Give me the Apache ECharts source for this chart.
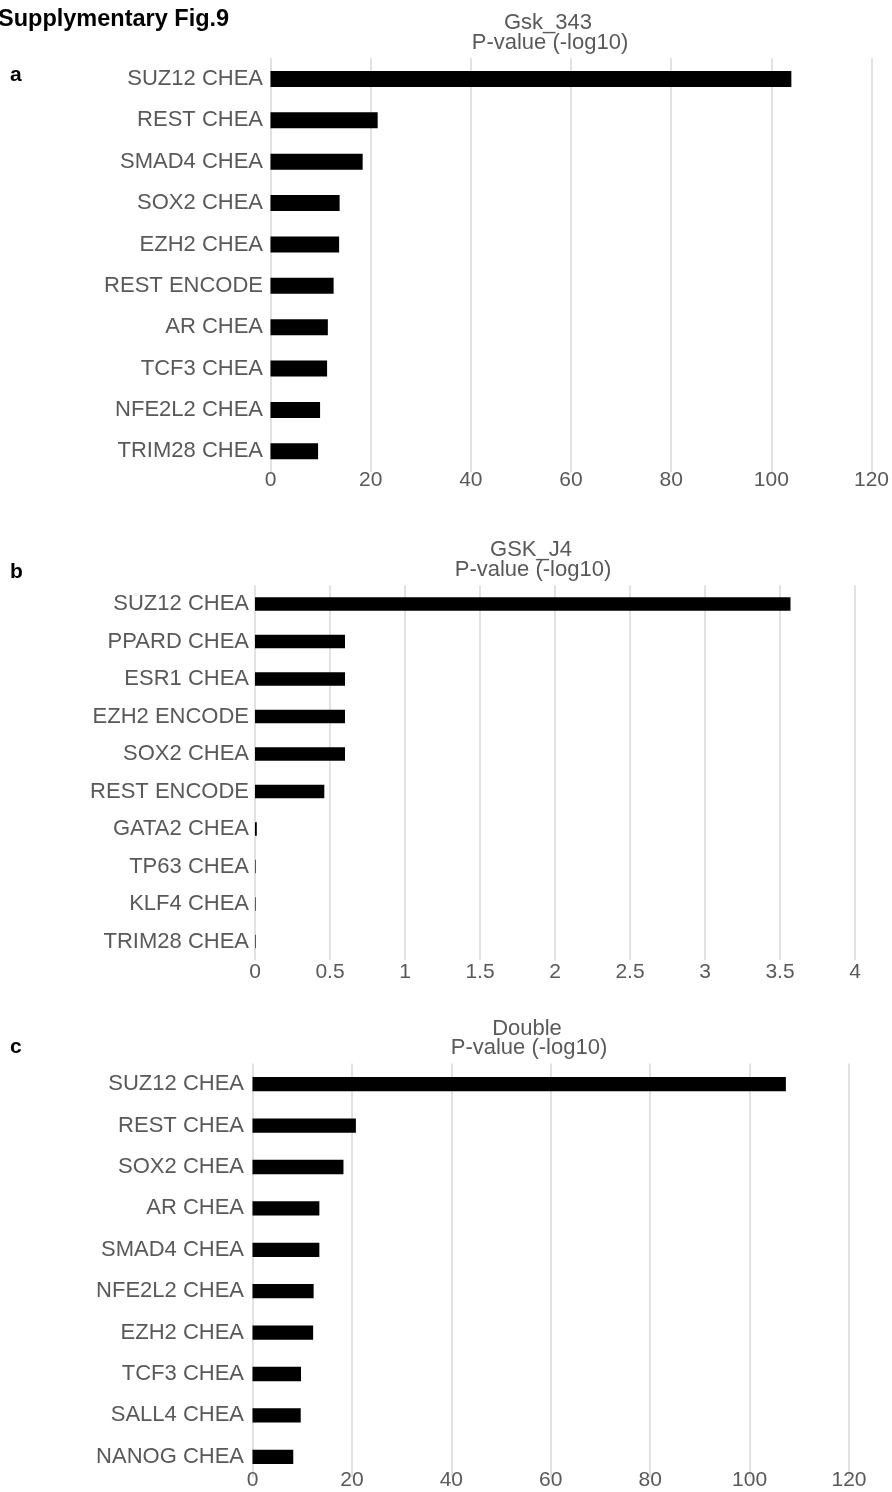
<!DOCTYPE html>
<html>
<head>
<meta charset="utf-8">
<script src="https://cdn.jsdelivr.net/npm/echarts@6/dist/echarts.min.js"></script>
<style>
html,body{margin:0;padding:0;background:#fff;}
#chart{width:892px;height:1492px;}
</style>
</head>
<body>
<div id="chart"></div>
<script>
// Panel a: Gsk_343
var catsA = ['SUZ12 CHEA','REST CHEA','SMAD4 CHEA','SOX2 CHEA','EZH2 CHEA','REST ENCODE','AR CHEA','TCF3 CHEA','NFE2L2 CHEA','TRIM28 CHEA'];
var valsA = [104, 21.4, 18.4, 13.8, 13.7, 12.6, 11.45, 11.3, 9.9, 9.5];
// Panel b: GSK_J4
var catsB = ['SUZ12 CHEA','PPARD CHEA','ESR1 CHEA','EZH2 ENCODE','SOX2 CHEA','REST ENCODE','GATA2 CHEA','TP63 CHEA','KLF4 CHEA','TRIM28 CHEA'];
var valsB = [3.57, 0.60, 0.60, 0.60, 0.60, 0.462, 0.012, 0.004, 0.004, 0.004];
// Panel c: Double
var catsC = ['SUZ12 CHEA','REST CHEA','SOX2 CHEA','AR CHEA','SMAD4 CHEA','NFE2L2 CHEA','EZH2 CHEA','TCF3 CHEA','SALL4 CHEA','NANOG CHEA'];
var valsC = [107.3, 20.8, 18.3, 13.45, 13.45, 12.3, 12.2, 9.76, 9.7, 8.2];

var xTicksA = {min: 0, max: 120, interval: 20};
var xTicksB = {min: 0, max: 4, interval: 0.5};
var xTicksC = {min: 0, max: 120, interval: 20};

var titles = ['Gsk_343', 'GSK_J4', 'Double'];
var subtitle = 'P-value (-log10)';
var panelLetters = ['a', 'b', 'c'];

var FONT = "'Liberation Sans', Arial, Helvetica, sans-serif";
var TXT = '#595959';
var GRIDC = '#d9d9d9';

var grids = [
  {left: 270.5, top: 58.3, width: 602.5, height: 413.7},
  {left: 255, top: 585.3, width: 600, height: 375},
  {left: 252.5, top: 1063.5, width: 596.5, height: 414}
];
var xMargins = [-2, 1, -8];
var yMargins = [7.5, 6, 8.5];
var barWidths = [16, 13.5, 14.3];
var ticks = [xTicksA, xTicksB, xTicksC];
var cats = [catsA, catsB, catsC];
var vals = [valsA, valsB, valsC];
var titleX = [548, 531, 527];
var letterY = [75.5, 572, 1047];

var xAxes = [], yAxes = [], series = [], graphics = [];
for (var i = 0; i < 3; i++) {
  xAxes.push({
    gridIndex: i, type: 'value', min: ticks[i].min, max: ticks[i].max, interval: ticks[i].interval,
    axisLine: {show: false}, axisTick: {show: false},
    splitLine: {show: true, lineStyle: {color: GRIDC, width: 1.5}},
    axisLabel: {color: TXT, fontSize: 21, fontFamily: FONT, margin: xMargins[i]}
  });
  yAxes.push({
    gridIndex: i, type: 'category', data: cats[i], inverse: true,
    axisLine: {show: false}, axisTick: {show: false}, splitLine: {show: false},
    axisLabel: {color: TXT, fontSize: 22, fontFamily: FONT, margin: yMargins[i], interval: 0}
  });
  series.push({
    type: 'bar', xAxisIndex: i, yAxisIndex: i, data: vals[i],
    barWidth: barWidths[i], itemStyle: {color: '#000'}, silent: true, animation: false
  });
  var gt = grids[i].top;
  graphics.push({type: 'text', x: titleX[i], y: gt - 35, style: {text: titles[i], fill: TXT, font: '22px ' + FONT, textAlign: 'center', textVerticalAlign: 'middle'}});
  graphics.push({type: 'text', x: titleX[i] + 2, y: gt - 15.5, style: {text: subtitle, fill: TXT, font: '22px ' + FONT, textAlign: 'center', textVerticalAlign: 'middle'}});
  graphics.push({type: 'text', x: 10, y: letterY[i], style: {text: panelLetters[i], fill: '#000', font: 'bold 21px ' + FONT, textAlign: 'left', textVerticalAlign: 'middle'}});
}
graphics.push({type: 'text', x: -2, y: 20, style: {text: 'Supplymentary Fig.9', fill: '#000', font: 'bold 23.5px ' + FONT, textAlign: 'left', textVerticalAlign: 'middle'}});

var chart = echarts.init(document.getElementById('chart'), null, {renderer: 'canvas'});
chart.setOption({
  animation: false,
  backgroundColor: '#fff',
  grid: grids,
  xAxis: xAxes,
  yAxis: yAxes,
  series: series,
  graphic: graphics
});
</script>
</body>
</html>
